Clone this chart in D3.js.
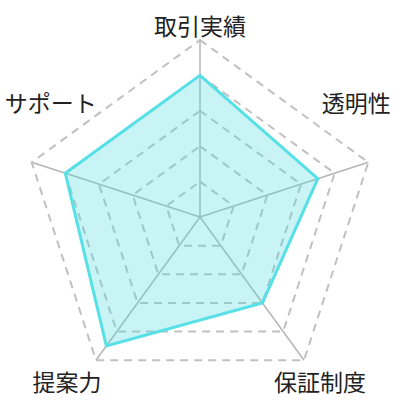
<!DOCTYPE html>
<html>
<head>
<meta charset="utf-8">
<script src="https://cdn.jsdelivr.net/npm/d3@7"></script>
<style>
  html, body { margin: 0; padding: 0; background: #fff; }
  svg { display: block; }
</style>
</head>
<body>
<svg id="chart"></svg>
<script>
// data
const categories = ['取引実績', '透明性', '保証制度', '提案力', 'サポート'];
const values = [4, 3.5, 3, 4.5, 4];
const levels = [1, 2, 3, 4, 5];
const maxValue = 5;

// label nudges from each outer vertex (px)
const labelOffsets = [[0, -15], [-12, -60], [16, 21], [-29, 21], [19, -60]];

const width = 400, height = 400;
const cx = 200, cy = 217, radius = 177;

const svg = d3.select('#chart')
  .attr('width', width)
  .attr('height', height);

const g = svg.append('g')
  .attr('transform', `translate(${cx}, ${cy})`);

const rscale = d3.scaleLinear()
  .domain([0, maxValue])
  .range([0, radius]);

const angle = d3.scalePoint()
  .domain(categories)
  .range([0, 2 * Math.PI * (categories.length - 1) / categories.length]);

const pt = (cat, v) => {
  const a = angle(cat);
  return [rscale(v) * Math.sin(a), -rscale(v) * Math.cos(a)];
};

const ring = d3.line().curve(d3.curveLinearClosed);

// axis spokes
g.selectAll('.spoke')
  .data(categories)
  .join('line')
  .attr('class', 'spoke')
  .attr('x1', 0).attr('y1', 0)
  .attr('x2', d => pt(d, maxValue)[0])
  .attr('y2', d => pt(d, maxValue)[1])
  .attr('stroke', '#b5b5b5')
  .attr('stroke-width', 1.5);

// dashed level rings
g.selectAll('.level')
  .data(levels)
  .join('path')
  .attr('class', 'level')
  .attr('d', lv => ring(categories.map(c => pt(c, lv))))
  .attr('fill', 'none')
  .attr('stroke', '#c0c0c0')
  .attr('stroke-width', 2)
  .attr('stroke-dasharray', '8,6');

// data area
g.append('path')
  .attr('d', ring(categories.map((c, i) => pt(c, values[i]))))
  .attr('fill', 'rgba(75, 220, 226, 0.3)')
  .attr('stroke', '#57e0e6')
  .attr('stroke-width', 3)
  .attr('stroke-linejoin', 'miter');

// labels
g.selectAll('.label')
  .data(categories)
  .join('text')
  .attr('class', 'label')
  .attr('x', (d, i) => pt(d, maxValue)[0] + labelOffsets[i][0])
  .attr('y', (d, i) => pt(d, maxValue)[1] + labelOffsets[i][1])
  .attr('text-anchor', 'middle')
  .attr('dominant-baseline', 'central')
  .style('font-family', '"Noto Sans CJK JP", "Noto Sans", sans-serif')
  .style('font-size', '23px')
  .attr('fill', '#222')
  .text(d => d);
</script>
</body>
</html>
